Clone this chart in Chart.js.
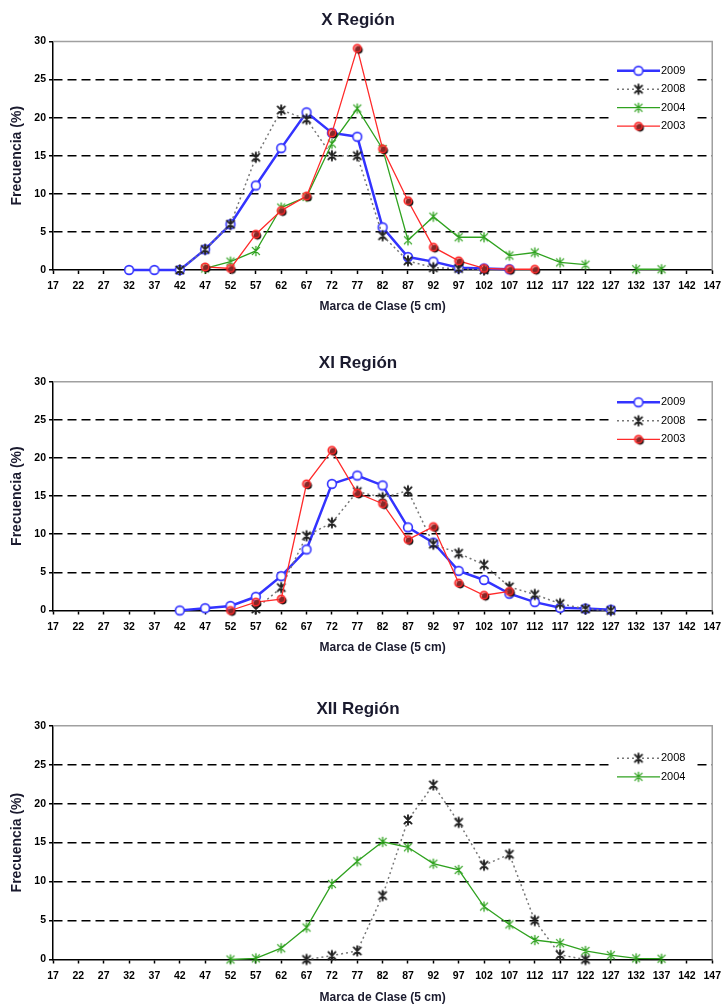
<!DOCTYPE html>
<html><head><meta charset="utf-8">
<script src="https://cdn.jsdelivr.net/npm/chart.js@4.4.1/dist/chart.umd.min.js"></script>
<style>
html,body{margin:0;padding:0;background:#fff;overflow:hidden;width:727px;height:1004px;}
canvas{position:absolute;left:0;}
</style></head><body>
<canvas id="c1" width="727" height="320" style="top:0px"></canvas>
<canvas id="c2" width="727" height="320" style="top:340px"></canvas>
<canvas id="c3" width="727" height="324" style="top:680px"></canvas>
<script>
// ---- categories (Marca de Clase, 5 cm) ----
const classMarks = ['17','22','27','32','37','42','47','52','57','62','67','72','77','82','87','92','97','102','107','112','117','122','127','132','137','142','147'];

// ---- X Región ----
const xReg2009 = [null,null,null,0,0,0,2.7,6.0,11.1,16.0,20.7,18.0,17.5,5.6,1.7,1.1,0.3,0.2,0.1,null,null,null,null,null,null,null,null];
const xReg2008 = [null,null,null,null,null,0,2.7,6.0,14.8,21.0,19.8,15.0,15.0,4.5,1.2,0.3,0.2,0,null,null,null,null,null,null,null,null,null];
const xReg2004 = [null,null,null,null,null,null,0.2,1.1,2.5,8.2,9.6,16.6,21.2,15.9,3.9,7.0,4.3,4.3,1.9,2.3,1.0,0.7,null,0.1,0.1,null,null];
const xReg2003 = [null,null,null,null,null,null,0.4,0.2,4.7,7.8,9.7,18.0,29.1,15.9,9.1,3.0,1.2,0.2,0.1,0.1,null,null,null,null,null,null,null];

// ---- XI Región ----
const xiReg2009 = [null,null,null,null,null,0,0.3,0.6,1.8,4.5,8.0,16.6,17.7,16.4,10.9,8.9,5.2,4.0,2.2,1.1,0.35,0.25,0.1,null,null,null,null];
const xiReg2008 = [null,null,null,null,null,null,null,null,0.2,3.0,9.8,11.5,15.6,14.8,15.7,8.7,7.5,6.0,3.1,2.1,0.9,0.2,0,null,null,null,null];
const xiReg2003 = [null,null,null,null,null,null,null,0,1.1,1.5,16.6,21.0,15.4,14.0,9.3,11.0,3.6,2.0,2.5,null,null,null,null,null,null,null,null];

// ---- XII Región ----
const xiiReg2008 = [null,null,null,null,null,null,null,null,null,null,0,0.5,1.1,8.2,17.9,22.4,17.6,12.1,13.5,5.0,0.6,0,null,null,null,null,null];
const xiiReg2004 = [null,null,null,null,null,null,null,0,0.15,1.45,4.1,9.7,12.6,15.1,14.4,12.3,11.5,6.8,4.5,2.5,2.1,1.1,0.55,0.15,0.1,null,null];

const FONT = "'Liberation Sans', Arial, sans-serif";

// ---- marker images ----
function mk(draw){ const c=document.createElement('canvas'); c.width=16; c.height=16; const g=c.getContext('2d'); g.translate(8,8); draw(g); return c; }
const mBlue = mk(g=>{ g.beginPath(); g.arc(0,0,4.4,0,Math.PI*2); g.fillStyle='#fff'; g.fill(); g.lineWidth=1.6; g.strokeStyle='#3333ff'; g.stroke(); });
const mRed = mk(g=>{ g.beginPath(); g.arc(1.6,1.6,3.8,0,Math.PI*2); g.fillStyle='#111'; g.fill(); g.beginPath(); g.arc(0,0,3.8,0,Math.PI*2); g.fillStyle='rgba(230,60,60,0.55)'; g.fill(); g.lineWidth=1.5; g.strokeStyle='#ff2a2a'; g.stroke(); });
function star(color,w,s){ return mk(g=>{ g.strokeStyle=color; g.lineWidth=w; g.lineCap='round'; g.beginPath(); g.moveTo(-s,-s); g.lineTo(s,s); g.moveTo(s,-s); g.lineTo(-s,s); g.moveTo(0,-s*1.3); g.lineTo(0,s*1.3); g.stroke(); }); }
const mBlack = star('#222',1.9,3.6);
const mGreen = star('#2fa21f',1.3,3.6);

function ds(label, data, color, width, dash, marker, order){
  return {label, data, borderColor:color, backgroundColor:color, borderWidth:width, borderDash:dash,
    pointStyle:marker, pointRadius:5, pointHoverRadius:5, tension:0, fill:false, spanGaps:false, clip:false, order};
}

function framePlugin(legendTop){
  return {
    id:'frameLegend',
    beforeDatasetsDraw(chart){
      const {ctx, chartArea:a} = chart;
      ctx.save(); ctx.strokeStyle='#a0a0a0'; ctx.lineWidth=1.5; ctx.setLineDash([]);
      ctx.beginPath(); ctx.moveTo(a.left, a.top); ctx.lineTo(a.right, a.top); ctx.lineTo(a.right, a.bottom); ctx.stroke();
      ctx.restore();
    },
    afterDatasetsDraw(chart){
      const {ctx, chartArea:a} = chart;
      const sets = chart.data.datasets;
      const step = 18.5;
      const y0 = a.top + legendTop;
      ctx.save();
      ctx.fillStyle='#fff';
      ctx.fillRect(611, y0-9, 86, step*(sets.length-1)+18);
      sets.forEach((d,i)=>{
        const y = y0 + i*step;
        ctx.strokeStyle=d.borderColor; ctx.lineWidth=d.borderWidth; ctx.setLineDash(d.borderDash||[]);
        ctx.beginPath(); ctx.moveTo(617,y); ctx.lineTo(660,y); ctx.stroke();
        ctx.setLineDash([]);
        ctx.drawImage(d.pointStyle, 638.5-8, y-8);
        ctx.fillStyle='#000'; ctx.font='11px '+FONT; ctx.textBaseline='middle'; ctx.textAlign='left';
        ctx.fillText(d.label, 661, y);
      });
      ctx.restore();
    }
  };
}

function makeChart(id, title, datasets, g){
  new Chart(document.getElementById(id), {
    type:'line',
    data:{ labels: classMarks, datasets },
    options:{
      responsive:false, animation:false,
      layout:{ padding:{left:0, right:11, top:0, bottom:0} },
      plugins:{
        legend:{display:false}, tooltip:{enabled:false},
        title:{ display:true, text:title, color:'#1a1a2e', font:{family:FONT, size:17, weight:'bold', lineHeight:1.2}, padding:{top:g.tTop, bottom:g.tBot} }
      },
      scales:{
        x:{ type:'category', offset:false,
          ticks:{ autoSkip:false, maxRotation:0, minRotation:0, padding:6, color:'#000', font:{family:FONT, size:10.5, weight:'bold'} },
          grid:{ drawOnChartArea:false, drawTicks:true, tickLength:4, tickColor:'#000', tickWidth:1.5 },
          border:{ display:true, color:'#000', width:1.5 },
          title:{ display:true, text:'Marca de Clase (5 cm)', color:'#1a1a2e', font:{family:FONT, size:12, weight:'bold', lineHeight:1}, padding:{top:0, bottom:g.xPb} },
          afterFit: s => { s.height = g.xH; }
        },
        y:{ min:0, max:30,
          ticks:{ stepSize:5, padding:3, color:'#000', font:{family:FONT, size:10.5, weight:'bold'} },
          grid:{ color: c => (c.tick && c.tick.value>0 && c.tick.value<30) ? '#000' : 'rgba(0,0,0,0)', lineWidth:1.5, drawTicks:true, tickLength:4, tickColor:'#000', tickWidth:1.5 },
          border:{ display:true, color:'#000', width:1.5, dash: c => (c.tick && c.tick.value>0 && c.tick.value<30) ? [9,5] : [] },
          title:{ display:true, text:'Frecuencia (%)', color:'#1a1a2e', font:{family:FONT, size:14, weight:'bold', lineHeight:1}, padding:{top:10, bottom:0} },
          afterFit: s => { s.width = 53; }
        }
      }
    },
    plugins:[framePlugin(g.legTop)]
  });
}

makeChart('c1', 'X Región', [
  ds('2009', xReg2009, '#3333ff', 2.5, [], mBlue, 4),
  ds('2008', xReg2008, '#777777', 1.5, [2,3], mBlack, 3),
  ds('2004', xReg2004, '#2fa21f', 1.3, [], mGreen, 2),
  ds('2003', xReg2003, '#ff2a2a', 1.3, [], mRed, 1)
], {tTop:10.3, tBot:10.8, xH:50, xPb:7.3, legTop:29.2});

makeChart('c2', 'XI Región', [
  ds('2009', xiReg2009, '#3333ff', 2.5, [], mBlue, 3),
  ds('2008', xiReg2008, '#777777', 1.5, [2,3], mBlack, 2),
  ds('2003', xiReg2003, '#ff2a2a', 1.3, [], mRed, 1)
], {tTop:12.8, tBot:8.5, xH:49.5, xPb:6, legTop:20.6});

makeChart('c3', 'XII Región', [
  ds('2008', xiiReg2008, '#777777', 1.5, [2,3], mBlack, 2),
  ds('2004', xiiReg2004, '#2fa21f', 1.3, [], mGreen, 1)
], {tTop:18.8, tBot:6.5, xH:44.5, xPb:0, legTop:32.6});
</script>
</body></html>
